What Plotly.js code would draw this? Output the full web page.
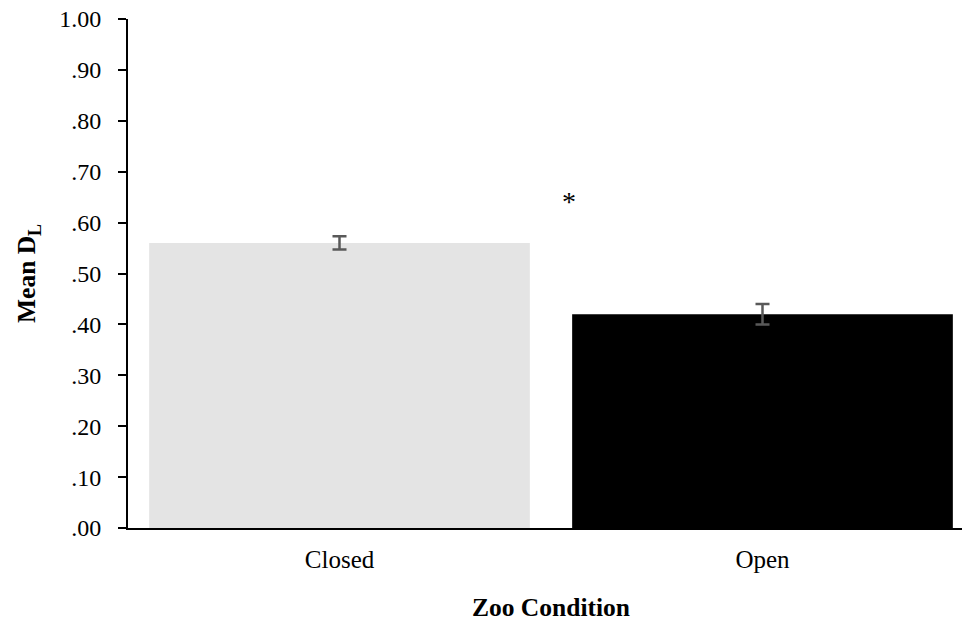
<!DOCTYPE html>
<html>
<head>
<meta charset="utf-8">
<script src="https://cdn.plot.ly/plotly-3.0.1.min.js"></script>
<style>
  html, body { margin: 0; padding: 0; background: #fff; overflow: hidden; }
  #chart { width: 980px; height: 622px; }
</style>
</head>
<body>
<div id="chart"></div>
<script>
// Zoo condition means with standard errors
const categories = ['Closed', 'Open'];
const meanDL = [0.56, 0.42];
const stdErr = [0.013, 0.02];
const barColors = ['#e4e4e4', '#000000'];
const yTickVals = [0, 0.1, 0.2, 0.3, 0.4, 0.5, 0.6, 0.7, 0.8, 0.9, 1.0];
const yTickText = ['.00', '.10', '.20', '.30', '.40', '.50', '.60', '.70', '.80', '.90', '1.00'];

const serif = 'Liberation Serif, Times New Roman, serif';

const trace = {
  type: 'bar',
  x: categories,
  y: meanDL,
  width: 0.9,
  marker: { color: barColors, line: { width: 0 } },
  error_y: {
    type: 'data',
    array: stdErr,
    visible: true,
    color: '#595959',
    thickness: 2.5,
    width: 7
  },
  hoverinfo: 'x+y'
};

// The figure runs a little past the right edge of the page, as in the printed chart
const layout = {
  width: 980,
  height: 622,
  margin: { l: 128, r: 6, t: 19, b: 94 },
  paper_bgcolor: '#ffffff',
  plot_bgcolor: '#ffffff',
  showlegend: false,
  font: { family: serif, color: '#000000', size: 24 },
  xaxis: {
    type: 'category',
    range: [-0.5, 1.5],
    showline: true,
    linecolor: '#000000',
    linewidth: 2,
    ticks: '',
    showgrid: false,
    zeroline: false,
    automargin: false,
    ticklabelstandoff: 8,
    tickfont: { family: serif, size: 25, color: '#000' },
    title: {
      text: '<b>Zoo Condition</b>',
      font: { family: serif, size: 25.5, color: '#000' },
      standoff: 27
    }
  },
  yaxis: {
    range: [0, 1.0],
    tickvals: yTickVals,
    ticktext: yTickText,
    showline: true,
    linecolor: '#000000',
    linewidth: 2,
    ticks: 'outside',
    ticklen: 8,
    tickwidth: 2,
    tickcolor: '#000000',
    showgrid: false,
    zeroline: false,
    automargin: false,
    ticklabelstandoff: 12,
    tickfont: { family: serif, size: 24, color: '#000' },
    title: {
      text: '<b>Mean D<sub>L</sub></b>',
      font: { family: serif, size: 25.5, color: '#000' },
      standoff: 16
    }
  },
  annotations: [{
    xref: 'x', yref: 'y',
    x: 0.543, y: 0.642,
    text: '*',
    showarrow: false,
    font: { family: serif, size: 28, color: '#000' }
  }]
};

Plotly.newPlot('chart', [trace], layout, { displayModeBar: false, staticPlot: true });
</script>
</body>
</html>
